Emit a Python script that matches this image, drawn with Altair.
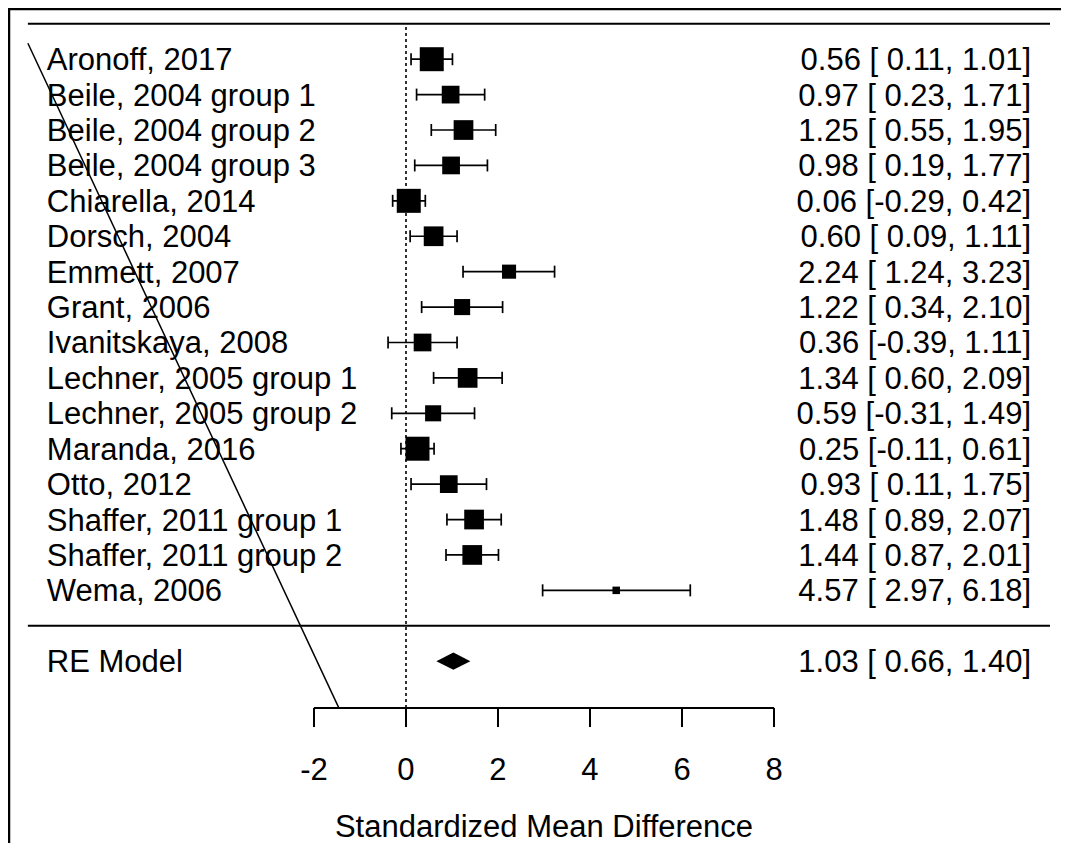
import altair as alt
import pandas as pd

# ---------------- data ----------------
studies = ["Aronoff, 2017", "Beile, 2004 group 1", "Beile, 2004 group 2", "Beile, 2004 group 3",
           "Chiarella, 2014", "Dorsch, 2004", "Emmett, 2007", "Grant, 2006", "Ivanitskaya, 2008",
           "Lechner, 2005 group 1", "Lechner, 2005 group 2", "Maranda, 2016", "Otto, 2012",
           "Shaffer, 2011 group 1", "Shaffer, 2011 group 2", "Wema, 2006"]
yi = [0.56, 0.97, 1.25, 0.98, 0.06, 0.60, 2.24, 1.22, 0.36, 1.34, 0.59, 0.25, 0.93, 1.48, 1.44, 4.57]
ci_lb = [0.11, 0.23, 0.55, 0.19, -0.29, 0.09, 1.24, 0.34, -0.39, 0.60, -0.31, -0.11, 0.11, 0.89, 0.87, 2.97]
ci_ub = [1.01, 1.71, 1.95, 1.77, 0.42, 1.11, 3.23, 2.10, 1.11, 2.09, 1.49, 0.61, 1.75, 2.07, 2.01, 6.18]
# estimated relative weights (%) judged from the box sizes
weights = [7.7, 5.8, 6.4, 5.8, 7.7, 6.4, 4.7, 5.3, 5.8, 6.4, 5.3, 7.7, 5.8, 6.4, 6.4, 2.7]
re_label = "RE Model"
re_est, re_lb, re_ub = 1.03, 0.66, 1.40
axis_ticks = [-2, 0, 2, 4, 6, 8]
axis_title = "Standardized Mean Difference"
# stray diagonal line in the reference (data coordinates)
diag_x = [-8.22, -1.46]
diag_y = [16.45, -2.32]

# ---------------- layout constants ----------------
W, H = 1053, 835
X_DOM = [-8.652, 14.239]
Y_DOM = [-6.135, 17.446]
XLIM = [-8.22, 14.0]
TOP_ROW = 17
AXIS_ROW = -2.32
FONT = "Liberation Sans"
FS = 31

k = len(studies)
rows = list(range(k, 0, -1))

df = pd.DataFrame({"study": studies, "yi": yi, "lb": ci_lb, "ub": ci_ub,
                   "w": weights, "row": rows})
df["right"] = [f"{a:.2f} [{b:5.2f}, {c:.2f}]" for a, b, c in zip(yi, ci_lb, ci_ub)]

xs = alt.Scale(domain=X_DOM, nice=False, zero=False)
ys = alt.Scale(domain=Y_DOM, nice=False, zero=False)


def X(f, **kw):
    return alt.X(f, type="quantitative", scale=xs, axis=None, **kw)


def Y(f, **kw):
    return alt.Y(f, type="quantitative", scale=ys, axis=None, **kw)


base = alt.Chart(df)

# frame lines (left and top edge of the figure)
frame_df = pd.DataFrame({"a": [0]})
frame_left = alt.Chart(frame_df).mark_rule(color="black", strokeWidth=2.5).encode(
    x=alt.value(1), y=alt.value(0), y2=alt.value(H))
frame_top = alt.Chart(frame_df).mark_rule(color="black", strokeWidth=2.5).encode(
    x=alt.value(0), x2=alt.value(W), y=alt.value(1))

# horizontal lines: top line and separator
hl = pd.DataFrame({"row": [TOP_ROW, 0], "x0": [XLIM[0]] * 2, "x1": [XLIM[1]] * 2})
hlines = alt.Chart(hl).mark_rule(color="black", strokeWidth=2).encode(
    x=X("x0"), x2="x1", y=Y("row"))

# reference line at 0
rl = pd.DataFrame({"x": [0], "y0": [AXIS_ROW], "y1": [TOP_ROW]})
refline = alt.Chart(rl).mark_rule(color="black", strokeWidth=1.6, strokeDash=[3, 3]).encode(
    x=X("x"), y=Y("y0"), y2="y1")

# CI lines
ci = base.mark_rule(color="black", strokeWidth=1.7).encode(x=X("lb"), x2="ub", y=Y("row"))
ci_l = base.transform_calculate(a="datum.row - 0.17", b="datum.row + 0.17").mark_rule(
    color="black", strokeWidth=1.7).encode(x=X("lb"), y=Y("a:Q"), y2="b:Q")
ci_r = base.transform_calculate(a="datum.row - 0.17", b="datum.row + 0.17").mark_rule(
    color="black", strokeWidth=1.7).encode(x=X("ub"), y=Y("a:Q"), y2="b:Q")

# boxes
boxes = base.transform_calculate(
    sz="pow(7.5 + 3.3 * (datum.w - 2.7), 2)").mark_square(
    color="black", filled=True, opacity=1, strokeWidth=0).encode(
    x=X("yi"), y=Y("row"), size=alt.Size("sz:Q", scale=None, legend=None))

# diamond for RE model
hh = 0.245
dm = pd.DataFrame({"x": [re_lb, re_est, re_ub], "y": [-1, -1 + hh, -1], "y2": [-1, -1 - hh, -1]})
diamond = alt.Chart(dm).mark_area(color="black", orient="vertical", opacity=1).encode(
    x=X("x"), y=Y("y"), y2="y2")

# labels
lab_df = pd.DataFrame({"txt": studies + [re_label], "row": rows + [-1],
                       "x": [XLIM[0]] * (k + 1)})
left_txt = alt.Chart(lab_df).mark_text(align="left", baseline="middle", dx=19, dy=2,
                                       font=FONT, fontSize=FS, color="black").encode(
    x=X("x"), y=Y("row"), text="txt:N")

rt_df = pd.DataFrame({"txt": list(df["right"]) + [f"{re_est:.2f} [{re_lb:5.2f}, {re_ub:.2f}]"],
                      "row": rows + [-1], "x": [XLIM[1]] * (k + 1)})
right_txt = alt.Chart(rt_df).mark_text(align="right", baseline="middle", dx=-19, dy=2,
                                       font=FONT, fontSize=FS, color="black").encode(
    x=X("x"), y=Y("row"), text="txt:N")

# x axis drawn manually
ax_df = pd.DataFrame({"x0": [min(axis_ticks)], "x1": [max(axis_ticks)], "y": [AXIS_ROW]})
axis_line = alt.Chart(ax_df).mark_rule(color="black", strokeWidth=2).encode(
    x=X("x0"), x2="x1", y=Y("y"))
tk_df = pd.DataFrame({"t": axis_ticks, "y0": [AXIS_ROW] * len(axis_ticks),
                      "y1": [AXIS_ROW - 0.54] * len(axis_ticks),
                      "yl": [-4.04] * len(axis_ticks),
                      "lab": [str(t) for t in axis_ticks]})
ticks = alt.Chart(tk_df).mark_rule(color="black", strokeWidth=2).encode(
    x=X("t"), y=Y("y0"), y2="y1")
tick_labels = alt.Chart(tk_df).mark_text(align="center", baseline="middle", dy=2,
                                         font=FONT, fontSize=FS, color="black").encode(
    x=X("t"), y=Y("yl"), text="lab:N")
tt_df = pd.DataFrame({"x": [(min(axis_ticks) + max(axis_ticks)) / 2], "y": [-5.65],
                      "txt": [axis_title]})
title_txt = alt.Chart(tt_df).mark_text(align="center", baseline="middle", dy=2,
                                       font=FONT, fontSize=FS, color="black").encode(
    x=X("x"), y=Y("y"), text="txt:N")

# diagonal stray line
dg = pd.DataFrame({"x": diag_x, "y": diag_y, "o": [0, 1]})
diag = alt.Chart(dg).mark_line(color="black", strokeWidth=1.5).encode(
    x=X("x"), y=Y("y"), order="o:Q")

chart = alt.layer(
    frame_left, frame_top, hlines, refline, ci, ci_l, ci_r, boxes, diamond,
    left_txt, right_txt, axis_line, ticks, tick_labels, title_txt, diag
).properties(
    width=W, height=H, padding=0, autosize=alt.AutoSizeParams(type="none"),
    background="white"
).configure_view(strokeWidth=0)

chart.save("out.html", embed_options={"renderer": "svg", "actions": False})
